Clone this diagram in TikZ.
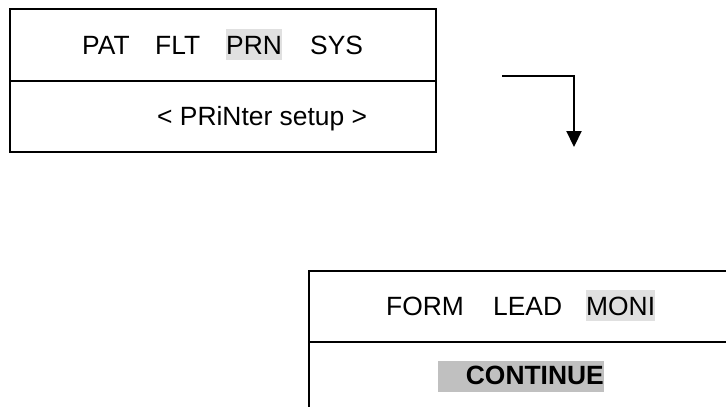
\documentclass[tikz,border=0pt]{standalone}
\usepackage{fontspec}
\setmainfont{Liberation Sans}
\usetikzlibrary{arrows.meta}
\definecolor{hilite}{RGB}{224,224,224}
\definecolor{selbg}{RGB}{192,192,192}
\tikzset{
  panel/.style={draw, line width=2.2pt, rectangle, inner sep=0pt, anchor=north west},
  word/.style={anchor=base west, inner sep=0pt},
  hl/.style={word, fill=hilite, text height=25pt, text depth=6pt},
}
\begin{document}
\begin{tikzpicture}[x=1pt, y=-1pt, font=\fontsize{26.4}{30}\selectfont]
  \clip (0,0) rectangle (726,407);

  \node (prntop) [panel, minimum width=426pt, minimum height=72pt] at (9,8) {};
  \node (prnbot) [panel, minimum width=426pt, minimum height=71pt] at (9,80) {};
  \node (pat) [word] at (82,54) {PAT};
  \node (flt) [word] at (155,54) {FLT};
  \node (prn) [hl] at (226,54) {PRN};
  \node (sys) [word] at (310,54) {SYS};
  \node (setup) [word] at (157,125) {< PRiNter setup >};

  \coordinate (from) at (502,76);
  \coordinate (to) at (574,147);
  \draw [line width=2.2pt, -{Triangle[width=15pt,length=16pt]}] (from) -| (to);

  \node (monitop) [panel, minimum width=460pt, minimum height=71pt] at (308,270) {};
  \node (monibot) [panel, minimum width=460pt, minimum height=120pt] at (308,341) {};
  \node (form) [word] at (386,315) {FORM};
  \node (lead) [word] at (493,315) {LEAD};
  \node (moni) [hl] at (586,315) {MONI};
  \node (cont) [word, fill=selbg, text height=23pt, text depth=8pt, anchor=base east] at (604,384) {\hspace*{28pt}\textbf{CONTINUE}};
\end{tikzpicture}
\end{document}
